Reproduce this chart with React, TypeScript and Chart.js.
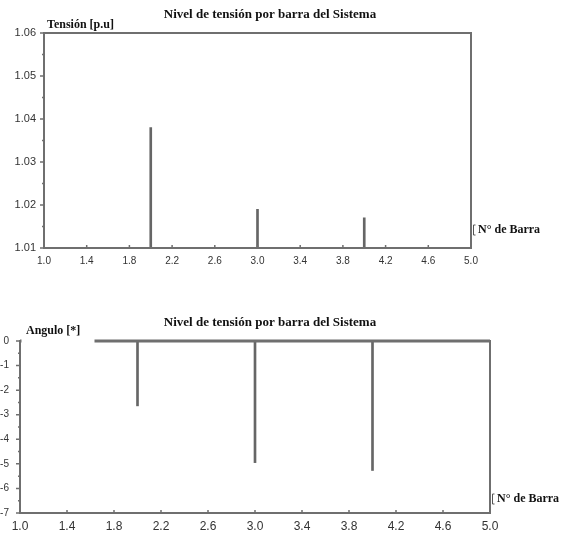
import React, { useEffect, useRef } from 'react';
import { Chart, registerables } from 'chart.js';

Chart.register(...registerables);

// ---- data ----
const buses = [2, 3, 4];
const voltage = [1.038, 1.019, 1.017];
const angle = [-2.64, -4.95, -5.27];
const xTicks = [1.0, 1.4, 1.8, 2.2, 2.6, 3.0, 3.4, 3.8, 4.2, 4.6, 5.0];
const vTicks = [1.01, 1.02, 1.03, 1.04, 1.05, 1.06];
const aTicks = [0, -1, -2, -3, -4, -5, -6, -7];
const titleText = 'Nivel de tensión por barra del Sistema';
const xLabel = 'N° de Barra';
const vLabel = 'Tensión [p.u]';
const aLabel = 'Angulo [*]';

const AXIS = '#6f6f6f';
const STEM = '#666666';
const TICKTXT = '#333';
const SERIF = '"Liberation Serif", "Times New Roman", serif';
const SANS = '"Liberation Sans", Arial, sans-serif';

type Spec = {
  values: number[];
  yTicks: number[];
  yMin: number;
  yMax: number;
  yDec: number;
  width: number;
  height: number;
  padding: { left: number; right: number; top: number; bottom: number };
  yW: number;
  xH: number;
  yPad: number;
  xPad: number;
  yFont: number;
  xFont: number;
  titleY: number;
  yLabel: string;
  yLabelX: number;
  yLabelY: number;
  mask: boolean;
  topW: number;
  xLabelY: number;
};

function decorPlugin(spec: Spec) {
  return {
    id: 'decor',
    afterDraw(chart: any) {
      const { ctx, chartArea: a, scales } = chart;
      const y = scales.y;
      const x = scales.x;
      ctx.save();
      ctx.strokeStyle = AXIS;
      ctx.lineWidth = 2;
      ctx.strokeRect(a.left, a.top, a.right - a.left, a.bottom - a.top);
      if (spec.topW > 2) {
        ctx.lineWidth = spec.topW;
        ctx.beginPath();
        ctx.moveTo(a.left, a.top);
        ctx.lineTo(a.right, a.top);
        ctx.stroke();
      }
      ctx.lineWidth = 1.5;
      ctx.beginPath();
      spec.yTicks.forEach((v, i) => {
        const py = y.getPixelForValue(v);
        ctx.moveTo(a.left - 4, py);
        ctx.lineTo(a.left, py);
        if (i < spec.yTicks.length - 1) {
          const pm = y.getPixelForValue((v + spec.yTicks[i + 1]) / 2);
          ctx.moveTo(a.left - 2, pm);
          ctx.lineTo(a.left, pm);
        }
      });
      xTicks.forEach((v, i) => {
        if (i === 0 || i === xTicks.length - 1) return;
        const px = x.getPixelForValue(v);
        ctx.moveTo(px, a.bottom);
        ctx.lineTo(px, a.bottom - 3);
      });
      ctx.stroke();

      // little bracket next to x label
      ctx.lineWidth = 1;
      ctx.strokeStyle = '#555';
      ctx.beginPath();
      const bx = a.right + 2.5;
      ctx.moveTo(bx + 2, spec.xLabelY - 5);
      ctx.lineTo(bx, spec.xLabelY - 5);
      ctx.lineTo(bx, spec.xLabelY + 5);
      ctx.lineTo(bx + 2, spec.xLabelY + 5);
      ctx.stroke();

      if (spec.mask) {
        ctx.fillStyle = '#fff';
        ctx.fillRect(a.left + 1.5, spec.yLabelY - 13, 73, a.top + 2.5 - (spec.yLabelY - 13));
      }

      ctx.fillStyle = '#111';
      ctx.textBaseline = 'middle';
      ctx.textAlign = 'center';
      ctx.font = `bold 13px ${SERIF}`;
      ctx.fillText(titleText, 270, spec.titleY);

      ctx.textAlign = 'left';
      ctx.font = `bold 12px ${SERIF}`;
      ctx.fillText(spec.yLabel, spec.yLabelX, spec.yLabelY);
      ctx.fillText(xLabel, a.right + 7, spec.xLabelY);
      ctx.restore();
    },
  };
}

function makeChart(canvas: HTMLCanvasElement, spec: Spec) {
  return new Chart(canvas, {
    type: 'bar',
    data: {
      datasets: [
        {
          data: buses.map((b, i) => ({ x: b, y: spec.values[i] })) as any,
          backgroundColor: STEM,
          borderWidth: 0,
          barThickness: 2,
          clip: 0,
        } as any,
      ],
    },
    options: {
      responsive: false,
      animation: false,
      events: [],
      layout: { padding: spec.padding },
      plugins: {
        legend: { display: false },
        title: { display: false },
        tooltip: { enabled: false },
      },
      scales: {
        x: {
          type: 'linear',
          min: 1,
          max: 5,
          offset: false,
          afterBuildTicks: (ax: any) => {
            ax.ticks = xTicks.map((v) => ({ value: v }));
          },
          afterFit: (ax: any) => {
            ax.height = spec.xH;
          },
          grid: { display: false, drawTicks: false, offset: false },
          border: { display: false },
          ticks: {
            autoSkip: false,
            maxRotation: 0,
            minRotation: 0,
            padding: spec.xPad,
            color: TICKTXT,
            font: { family: SANS, size: spec.xFont },
            callback: (v: any) => Number(v).toFixed(1),
          },
        },
        y: {
          type: 'linear',
          min: spec.yMin,
          max: spec.yMax,
          beginAtZero: false,
          afterBuildTicks: (ax: any) => {
            ax.ticks = spec.yTicks.map((v) => ({ value: v }));
          },
          afterFit: (ax: any) => {
            ax.width = spec.yW;
          },
          grid: { display: false, drawTicks: false },
          border: { display: false },
          ticks: {
            padding: spec.yPad,
            color: TICKTXT,
            font: { family: SANS, size: spec.yFont },
            callback: (v: any) => Number(v).toFixed(spec.yDec),
          },
        },
      },
    } as any,
    plugins: [decorPlugin(spec) as any],
  });
}

const topSpec: Spec = {
  values: voltage,
  yTicks: vTicks,
  yMin: 1.01,
  yMax: 1.06,
  yDec: 2,
  width: 562,
  height: 270,
  padding: { left: 0, right: 91, top: 33, bottom: 0 },
  yW: 44,
  xH: 22,
  yPad: 8,
  xPad: 7,
  yFont: 11,
  xFont: 10,
  titleY: 15,
  yLabel: vLabel,
  yLabelX: 47,
  yLabelY: 25,
  mask: false,
  topW: 2,
  xLabelY: 230,
};

const bottomSpec: Spec = {
  values: angle,
  yTicks: aTicks,
  yMin: -7,
  yMax: 0,
  yDec: 0,
  width: 562,
  height: 263,
  padding: { left: 0, right: 72, top: 71, bottom: 0 },
  yW: 20,
  xH: 20,
  yPad: 11,
  xPad: 6,
  yFont: 10,
  xFont: 12,
  titleY: 53,
  yLabel: aLabel,
  yLabelX: 26,
  yLabelY: 61,
  mask: true,
  topW: 3,
  xLabelY: 229,
};

function StemChart({ spec, top }: { spec: Spec; top: number }) {
  const ref = useRef<HTMLCanvasElement>(null);
  useEffect(() => {
    if (!ref.current) return;
    const c = makeChart(ref.current, spec);
    return () => c.destroy();
  }, [spec]);
  return (
    <canvas
      ref={ref}
      width={spec.width}
      height={spec.height}
      style={{ position: 'absolute', left: 0, top, width: spec.width, height: spec.height }}
    />
  );
}

export default function App() {
  return (
    <div style={{ position: 'absolute', left: 0, top: 0, width: 562, height: 533, background: '#fff', overflow: 'hidden' }}>
      <StemChart spec={topSpec} top={0} />
      <StemChart spec={bottomSpec} top={270} />
    </div>
  );
}
